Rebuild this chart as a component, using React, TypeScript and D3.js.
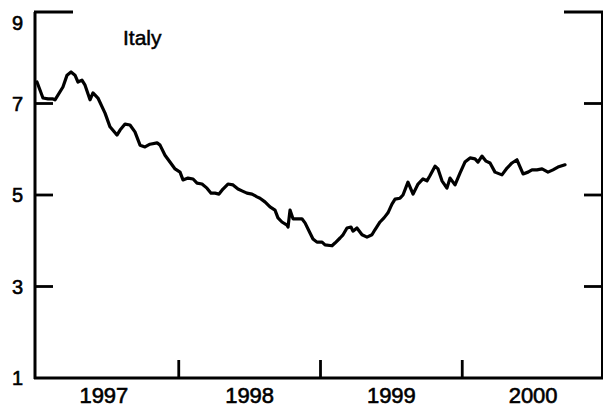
import React from "react";
import * as d3 from "d3";

// Decimal-year dates and Italian yield values (percent)
const dates: number[] = [
  1997.0, 1997.042, 1997.078, 1997.113, 1997.127, 1997.183, 1997.212, 1997.24, 1997.268, 1997.289,
  1997.317, 1997.339, 1997.374, 1997.395, 1997.43, 1997.48, 1997.515, 1997.564, 1997.586, 1997.621,
  1997.656, 1997.691, 1997.727, 1997.762, 1997.797, 1997.847, 1997.868, 1997.903, 1997.938, 1997.974,
  1998.009, 1998.03, 1998.065, 1998.101, 1998.129, 1998.164, 1998.199, 1998.228, 1998.256, 1998.284,
  1998.312, 1998.347, 1998.383, 1998.418, 1998.446, 1998.481, 1998.517, 1998.552, 1998.573, 1998.608,
  1998.644, 1998.679, 1998.7, 1998.728, 1998.764, 1998.771, 1998.785, 1998.806, 1998.834, 1998.869,
  1998.891, 1998.926, 1998.947, 1998.975, 1999.011, 1999.032, 1999.081, 1999.102, 1999.138, 1999.159,
  1999.187, 1999.215, 1999.229, 1999.257, 1999.293, 1999.328, 1999.363, 1999.384, 1999.42, 1999.448,
  1999.476, 1999.504, 1999.526, 1999.561, 1999.582, 1999.617, 1999.653, 1999.688, 1999.723, 1999.751,
  1999.772, 1999.808, 1999.829, 1999.857, 1999.892, 1999.914, 1999.949, 1999.984, 2000.019, 2000.055,
  2000.09, 2000.111, 2000.139, 2000.168, 2000.196, 2000.231, 2000.28, 2000.316, 2000.351, 2000.386,
  2000.429, 2000.464, 2000.492, 2000.527, 2000.563, 2000.605, 2000.64, 2000.675, 2000.725,
];

const yields: number[] = [
  7.47, 7.12, 7.1, 7.1, 7.08, 7.36, 7.62, 7.69, 7.62, 7.47,
  7.51, 7.4, 7.08, 7.23, 7.12, 6.79, 6.49, 6.31, 6.42, 6.55,
  6.53, 6.38, 6.09, 6.05, 6.11, 6.14, 6.09, 5.87, 5.72, 5.57,
  5.5, 5.33, 5.37, 5.35, 5.26, 5.24, 5.15, 5.04, 5.04, 5.02,
  5.13, 5.24, 5.22, 5.13, 5.09, 5.04, 5.02, 4.96, 4.93, 4.85,
  4.74, 4.67, 4.5, 4.41, 4.34, 4.3, 4.67, 4.48, 4.48, 4.48,
  4.39, 4.17, 4.04, 3.97, 3.97, 3.91, 3.89, 3.95, 4.06, 4.13,
  4.28, 4.3, 4.21, 4.28, 4.13, 4.08, 4.13, 4.24, 4.41, 4.5,
  4.61, 4.8, 4.91, 4.93, 5.0, 5.28, 5.02, 5.24, 5.35, 5.31,
  5.42, 5.63, 5.57, 5.31, 5.15, 5.37, 5.22, 5.48, 5.72, 5.81,
  5.79, 5.72, 5.85, 5.74, 5.7, 5.5, 5.44, 5.59, 5.7, 5.77,
  5.46, 5.5, 5.55, 5.55, 5.57, 5.5, 5.55, 5.61, 5.66,
];

const yTicks: number[] = [1, 3, 5, 7, 9];
const yearTicks: number[] = [1998, 1999, 2000];
const yearLabels: string[] = ["1997", "1998", "1999", "2000"];
const title = "Italy";

export default function App() {
  const W = 604;
  const H = 408;
  const left = 35;
  const right = 602;
  const top = 12;
  const bottom = 378;

  const x = d3.scaleLinear().domain([1997, 2001]).range([37, 604]);
  const y = d3.scaleLinear().domain([1, 9]).range([bottom, top]);

  const pts = dates.map((d, i) => [d, yields[i]] as [number, number]);
  const line = d3
    .line<[number, number]>()
    .x((d) => x(d[0]))
    .y((d) => y(d[1]));

  const font = "'Liberation Sans', Arial, Helvetica, sans-serif";
  const tickLen = 18;

  return (
    <svg
      width={W}
      height={H}
      style={{ position: "absolute", left: 0, top: 0, background: "#fff" }}
    >
      <rect x={0} y={0} width={W} height={H} fill="#fff" />
      {/* frame */}
      <line x1={left} y1={top} x2={left} y2={bottom + 1} stroke="#000" strokeWidth={3} />
      <line x1={left - 1} y1={bottom} x2={right + 1} y2={bottom} stroke="#000" strokeWidth={2.8} />
      <line x1={right} y1={top} x2={right} y2={bottom + 1} stroke="#000" strokeWidth={2} />
      <line x1={left - 1} y1={top} x2={left + 38} y2={top} stroke="#000" strokeWidth={2.8} />
      <line x1={right - 38} y1={top} x2={right + 1} y2={top} stroke="#000" strokeWidth={2.8} />

      {/* y ticks and labels */}
      {yTicks.map((t) => (
        <g key={t}>
          {t > 1 && t < 9 && (
            <>
              <line x1={left} x2={left + tickLen} y1={y(t)} y2={y(t)} stroke="#000" strokeWidth={2.8} />
              <line x1={right - tickLen} x2={right} y1={y(t)} y2={y(t)} stroke="#000" strokeWidth={2.8} />
            </>
          )}
          <text
            x={23}
            y={Math.max(y(t), 23)}
            dy="0.36em"
            textAnchor="end"
            fontFamily={font}
            fontSize={20}
            fill="#000"
            stroke="#000"
            strokeWidth={0.6}
          >
            {t}
          </text>
        </g>
      ))}

      {/* x ticks */}
      {yearTicks.map((t) => (
        <line key={t} x1={x(t)} x2={x(t)} y1={bottom} y2={bottom - tickLen} stroke="#000" strokeWidth={2.8} />
      ))}
      {yearLabels.map((lab) => (
        <text
          key={lab}
          x={x(+lab + 0.5) - (lab === "1997" ? 4 : 0)}
          y={403}
          textAnchor="middle"
          fontFamily={font}
          fontSize={22}
          fill="#000"
          stroke="#000"
          strokeWidth={0.6}
        >
          {lab}
        </text>
      ))}

      <text
        x={123}
        y={45}
        fontFamily={font}
        fontSize={21}
        fill="#000"
        stroke="#000"
        strokeWidth={0.5}
      >
        {title}
      </text>

      <path
        d={line(pts) ?? ""}
        fill="none"
        stroke="#000"
        strokeWidth={3.2}
        strokeLinejoin="round"
        strokeLinecap="round"
      />
    </svg>
  );
}
